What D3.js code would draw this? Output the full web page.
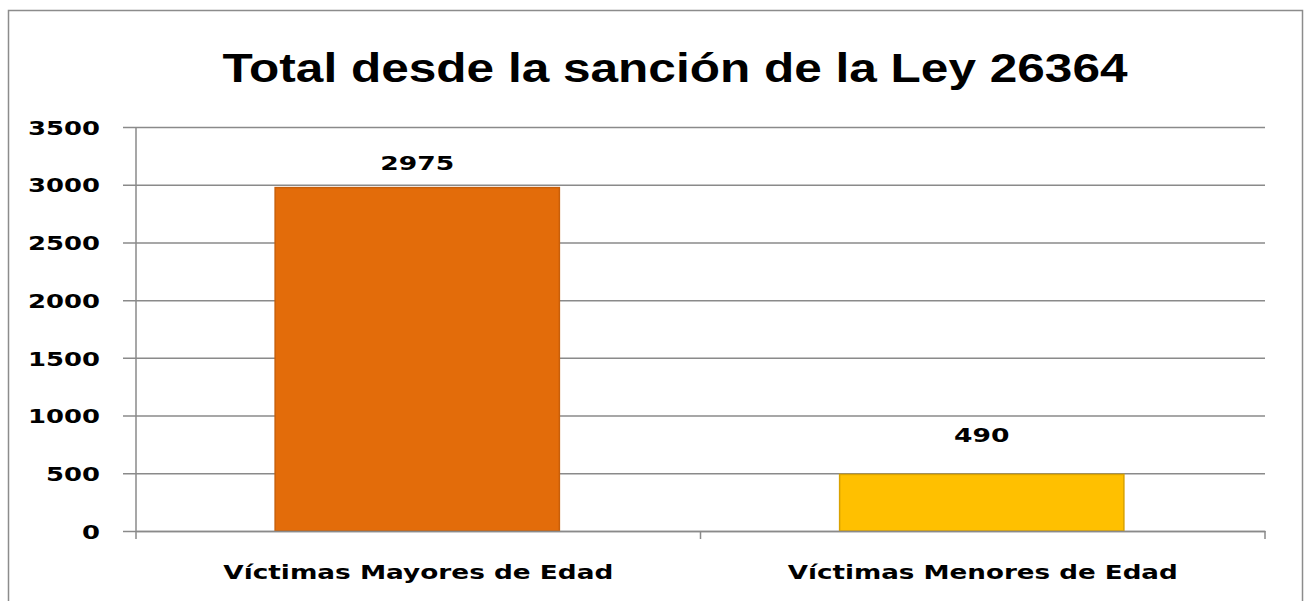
<!DOCTYPE html>
<html>
<head>
<meta charset="utf-8">
<script src="https://cdn.jsdelivr.net/npm/d3@7"></script>
<style>
  body { margin: 0; background: #fff; }
  #chart { width: 1305px; height: 601px; }
  text { font-family: "DejaVu Sans", sans-serif; font-weight: bold; fill: #000; }
</style>
</head>
<body>
<div id="chart"></div>
<script>
/* data */
const categories = ["Víctimas Mayores de Edad", "Víctimas Menores de Edad"];
const values = [2975, 490];
const barColors = ["#E36C0A", "#FFC000"];
const barStrokes = ["#c85f0a", "#d9a200"];
const yTicks = [0, 500, 1000, 1500, 2000, 2500, 3000, 3500];
const title = "Total desde la sanción de la Ley 26364";

const width = 1305;
const height = 601;
const margin = { top: 127, left: 136, right: 40, bottom: 70 };

const svg = d3.select("#chart")
    .append("svg")
    .attr("width", width)
    .attr("height", height);

// outer chart frame
svg.append("rect")
    .attr("x", 8.5)
    .attr("y", 10.5)
    .attr("width", 1294)
    .attr("height", 600)
    .attr("fill", "none")
    .attr("stroke", "#8c8c8c")
    .attr("stroke-width", 1.5);

const xScale = d3.scaleBand()
    .domain(categories)
    .range([margin.left, width - margin.right])
    .paddingInner(0.5)
    .paddingOuter(0.25);

const yScale = d3.scaleLinear()
    .domain([0, 3500])
    .range([height - margin.bottom, margin.top]);

// gridlines + y axis
const yAxis = svg.append("g")
    .attr("transform", `translate(${margin.left},0)`)
    .call(d3.axisLeft(yScale)
        .tickValues(yTicks)
        .tickSize(-(width - margin.right - margin.left))
        .tickFormat(d3.format("d")));
yAxis.select(".domain").remove();
yAxis.selectAll(".tick line")
    .attr("x1", -13)
    .attr("stroke", "#8a8a8a")
    .attr("stroke-width", 1.5);
yAxis.selectAll(".tick text")
    .attr("x", -36)
    .attr("dy", "0.36em")
    .style("font-size", "20px")
    .style("font-weight", 900)
    .attr("textLength", d => String(d).length * 18)
    .attr("lengthAdjust", "spacingAndGlyphs");

// vertical axis line
svg.append("line")
    .attr("x1", margin.left).attr("x2", margin.left)
    .attr("y1", margin.top).attr("y2", yScale(0) + 8)
    .attr("stroke", "#8a8a8a")
    .attr("stroke-width", 1.5);

// bars
svg.selectAll(".bar")
    .data(values)
    .join("rect")
    .attr("class", "bar")
    .attr("x", (d, i) => xScale(categories[i]) - 2)
    .attr("y", d => yScale(d))
    .attr("width", xScale.bandwidth() + 2)
    .attr("height", d => yScale(0) - yScale(d))
    .attr("fill", (d, i) => barColors[i])
    .attr("stroke", (d, i) => barStrokes[i])
    .attr("stroke-width", 1.5);

// x axis
const xAxis = svg.append("g")
    .attr("transform", `translate(0,${yScale(0)})`)
    .call(d3.axisBottom(xScale).tickSize(0).tickPadding(34));
xAxis.select(".domain")
    .attr("stroke", "#8a8a8a")
    .attr("stroke-width", 1.5);
xAxis.selectAll(".tick text")
    .style("font-size", "20px")
    .style("font-weight", 900)
    .attr("textLength", 390)
    .attr("lengthAdjust", "spacingAndGlyphs");

// category divider ticks
const dividers = [margin.left + (width - margin.right - margin.left) / 2, width - margin.right];
svg.selectAll(".divider")
    .data(dividers)
    .join("line")
    .attr("x1", d => d).attr("x2", d => d)
    .attr("y1", yScale(0)).attr("y2", yScale(0) + 8)
    .attr("stroke", "#8a8a8a")
    .attr("stroke-width", 1.5);

// value labels (Excel placed them at slightly different gaps)
const labelGap = [18, 32];
svg.selectAll(".value")
    .data(values)
    .join("text")
    .attr("class", "value")
    .attr("x", (d, i) => xScale(categories[i]) + xScale.bandwidth() / 2 - 1)
    .attr("y", (d, i) => yScale(d) - labelGap[i])
    .attr("text-anchor", "middle")
    .style("font-size", "20px")
    .style("font-weight", 900)
    .attr("textLength", d => String(d).length * 18.5)
    .attr("lengthAdjust", "spacingAndGlyphs")
    .text(d => d);

// title
svg.append("text")
    .attr("x", 675)
    .attr("y", 82)
    .attr("text-anchor", "middle")
    .attr("textLength", 905)
    .attr("lengthAdjust", "spacingAndGlyphs")
    .style("font-size", "40px")
    .style("font-family", "'Liberation Sans', sans-serif")
    .text(title);
</script>
</body>
</html>
